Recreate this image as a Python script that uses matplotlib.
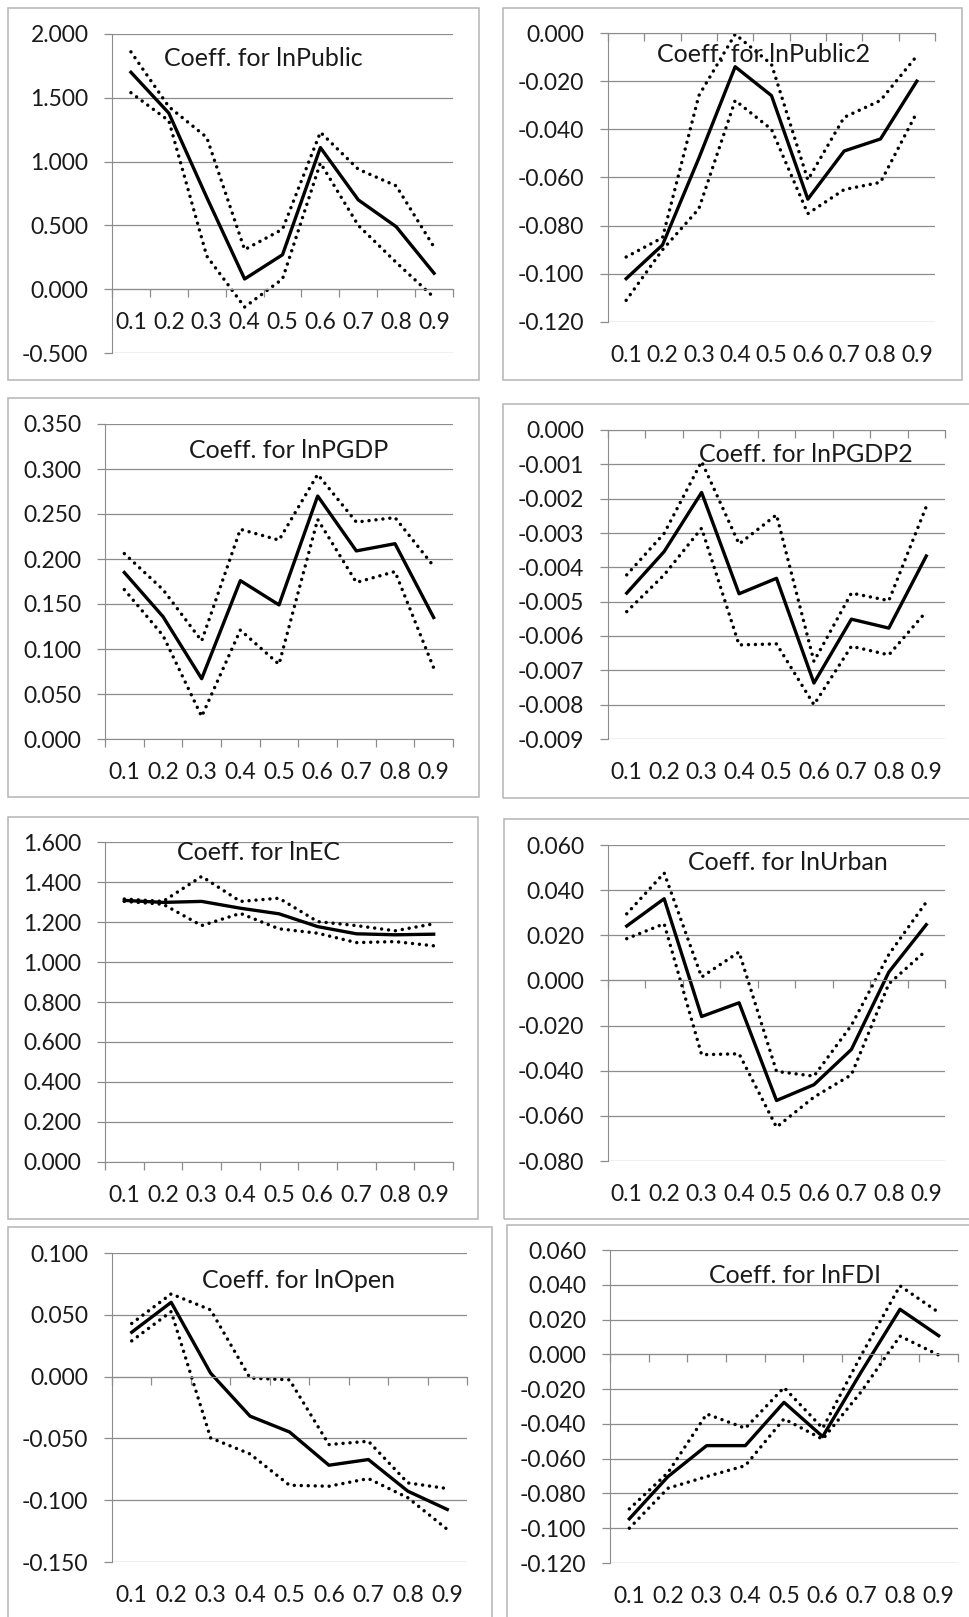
import numpy as np
import matplotlib.pyplot as plt
from matplotlib.patches import Rectangle
from matplotlib.ticker import FuncFormatter

W, H = 970, 1617

quantiles = ['0.1', '0.2', '0.3', '0.4', '0.5', '0.6', '0.7', '0.8', '0.9']

public_coef = [1.70, 1.38, 0.72, 0.08, 0.27, 1.11, 0.70, 0.49, 0.125]
public_hi = [1.86, 1.43, 1.19, 0.31, 0.47, 1.23, 0.94, 0.81, 0.33]
public_lo = [1.54, 1.32, 0.26, -0.14, 0.08, 0.99, 0.50, 0.21, -0.065]

public2_coef = [-0.102, -0.088, -0.052, -0.014, -0.026, -0.069, -0.049, -0.044, -0.020]
public2_hi = [-0.093, -0.085, -0.026, -0.0005, -0.013, -0.061, -0.035, -0.028, -0.0095]
public2_lo = [-0.111, -0.090, -0.073, -0.028, -0.040, -0.075, -0.065, -0.062, -0.033]

pgdp_coef = [0.185, 0.136, 0.067, 0.176, 0.149, 0.270, 0.209, 0.217, 0.135]
pgdp_hi = [0.206, 0.166, 0.109, 0.233, 0.221, 0.294, 0.241, 0.246, 0.192]
pgdp_lo = [0.166, 0.115, 0.025, 0.121, 0.083, 0.244, 0.174, 0.186, 0.079]

pgdp2_coef = [-0.00475, -0.00354, -0.00182, -0.00477, -0.00432, -0.00737, -0.00551, -0.00577, -0.00367]
pgdp2_hi = [-0.00422, -0.00301, -0.00092, -0.00332, -0.00247, -0.00674, -0.00475, -0.00497, -0.00223]
pgdp2_lo = [-0.00529, -0.00422, -0.00286, -0.00626, -0.00623, -0.00800, -0.00630, -0.00655, -0.00529]

ec_coef = [1.308, 1.298, 1.303, 1.269, 1.241, 1.177, 1.141, 1.136, 1.139]
ec_hi = [1.315, 1.303, 1.428, 1.303, 1.319, 1.202, 1.182, 1.156, 1.191]
ec_lo = [1.303, 1.289, 1.182, 1.243, 1.166, 1.144, 1.097, 1.102, 1.081]

urban_coef = [0.0241, 0.0362, -0.0160, -0.0099, -0.0532, -0.0462, -0.0306, 0.0037, 0.0247]
urban_hi = [0.0295, 0.0476, 0.0015, 0.0126, -0.0403, -0.0424, -0.0199, 0.0115, 0.0347]
urban_lo = [0.0185, 0.0251, -0.0329, -0.0325, -0.0650, -0.0517, -0.0418, -0.0015, 0.0133]

open_coef = [0.0359, 0.0601, 0.0028, -0.0320, -0.0448, -0.0717, -0.0671, -0.0927, -0.1075]
open_hi = [0.0430, 0.0669, 0.0540, -0.0012, -0.0026, -0.0550, -0.0523, -0.0860, -0.0906]
open_lo = [0.0289, 0.0526, -0.0496, -0.0626, -0.0879, -0.0887, -0.0825, -0.0980, -0.1236]

fdi_coef = [-0.0946, -0.0703, -0.0525, -0.0525, -0.0276, -0.0473, -0.0100, 0.0259, 0.0107]
fdi_hi = [-0.0889, -0.0680, -0.0343, -0.0425, -0.0191, -0.0425, -0.0004, 0.0394, 0.0241]
fdi_lo = [-0.1000, -0.0770, -0.0703, -0.0640, -0.0371, -0.0488, -0.0214, 0.0105, -0.0004]

# title, series, y range + step, axes box (px), frame (px), title centre (px), labels on zero line
panels = [
    ('Coeff. for lnPublic', public_coef, public_hi, public_lo, -0.5, 2.0, 0.5,
     (112, 34, 453, 353), (8, 8, 479, 380), (263, 59), True),
    ('Coeff. for lnPublic2', public2_coef, public2_hi, public2_lo, -0.12, 0.0, 0.02,
     (608, 33, 935, 322), (503, 8, 962, 380), (764, 55), False),
    ('Coeff. for lnPGDP', pgdp_coef, pgdp_hi, pgdp_lo, 0.0, 0.35, 0.05,
     (105, 424, 453, 739), (8, 398, 479, 797), (289, 450), False),
    ('Coeff. for lnPGDP2', pgdp2_coef, pgdp2_hi, pgdp2_lo, -0.009, 0.0, 0.001,
     (608, 430, 945, 739), (503, 404, 980, 798), (806, 455), False),
    ('Coeff. for lnEC', ec_coef, ec_hi, ec_lo, 0.0, 1.6, 0.2,
     (105, 842, 453, 1162), (8, 817, 478, 1219), (259, 852), False),
    ('Coeff. for lnUrban', urban_coef, urban_hi, urban_lo, -0.08, 0.06, 0.02,
     (608, 845, 945, 1161), (504, 819, 980, 1219), (788, 862), False),
    ('Coeff. for lnOpen', open_coef, open_hi, open_lo, -0.15, 0.10, 0.05,
     (112, 1253, 467, 1562), (8, 1227, 492, 1630), (299, 1280), False),
    ('Coeff. for lnFDI', fdi_coef, fdi_hi, fdi_lo, -0.12, 0.06, 0.02,
     (610, 1250, 958, 1563), (507, 1225, 980, 1630), (795, 1275), False),
]

grid_c = '#8c8c8c'
text_c = '#1a1a1a'

plt.rcParams['font.family'] = ['Lato', 'DejaVu Sans']
fig = plt.figure(figsize=(W / 100, H / 100), dpi=100)


def frac(l, t, r, b):
    return [l / W, 1 - b / H, (r - l) / W, (b - t) / H]


def fmt(v, pos):
    if abs(v) < 1e-12:
        return '0.000'
    return '%.3f' % v


x = np.arange(1, len(quantiles) + 1)

for title, coef, hi, lo, ymin, ymax, step, axbox, frame, tpos, on_zero in panels:
    fx = frac(*frame)
    fig.add_artist(Rectangle((fx[0], fx[1]), fx[2], fx[3], transform=fig.transFigure,
                             fill=False, edgecolor='#b4b4b4', lw=1.1))

    ax = fig.add_axes(frac(*axbox))
    ax.patch.set_alpha(0)
    for s in (hi, lo):
        ax.plot(x, s, color='black', lw=2.5, linestyle=(0, (0.01, 2.0)),
                dash_capstyle='round', clip_on=False)
    ax.plot(x, coef, color='black', lw=2.4, clip_on=False)

    ax.set_xlim(0.5, len(quantiles) + 0.5)
    ax.set_ylim(ymin, ymax)
    nt = int(round((ymax - ymin) / step))
    ax.set_yticks(ymin + step * np.arange(nt + 1))
    ax.yaxis.set_major_formatter(FuncFormatter(fmt))
    ax.grid(axis='y', color=grid_c, lw=0.9)
    ax.set_axisbelow(True)

    ax.spines['top'].set_visible(False)
    ax.spines['right'].set_visible(False)
    ax.spines['left'].set_color(grid_c)
    ax.spines['bottom'].set_color(grid_c)
    ax.spines['bottom'].set_position(('data', 0))

    ax.set_xticks(np.arange(0.5, len(quantiles) + 1, 1))
    ax.set_xticklabels([])
    ax.tick_params(axis='x', direction='out', length=5.5, width=0.9, color=grid_c)
    ax.tick_params(axis='y', direction='out', length=6, width=0.9, color=grid_c,
                   pad=11, labelsize=16.5, labelcolor=text_c)

    label_y = 0 if on_zero else ymin
    for xi, q in zip(x, quantiles):
        ax.annotate(q, (xi, label_y), xytext=(0, -24), textcoords='offset points',
                    ha='center', va='center', fontsize=16.5, color=text_c,
                    annotation_clip=False)

    fig.text(tpos[0] / W, 1 - tpos[1] / H, title, ha='center', va='center',
             fontsize=18, color=text_c)

plt.savefig('out.png', dpi=100)
